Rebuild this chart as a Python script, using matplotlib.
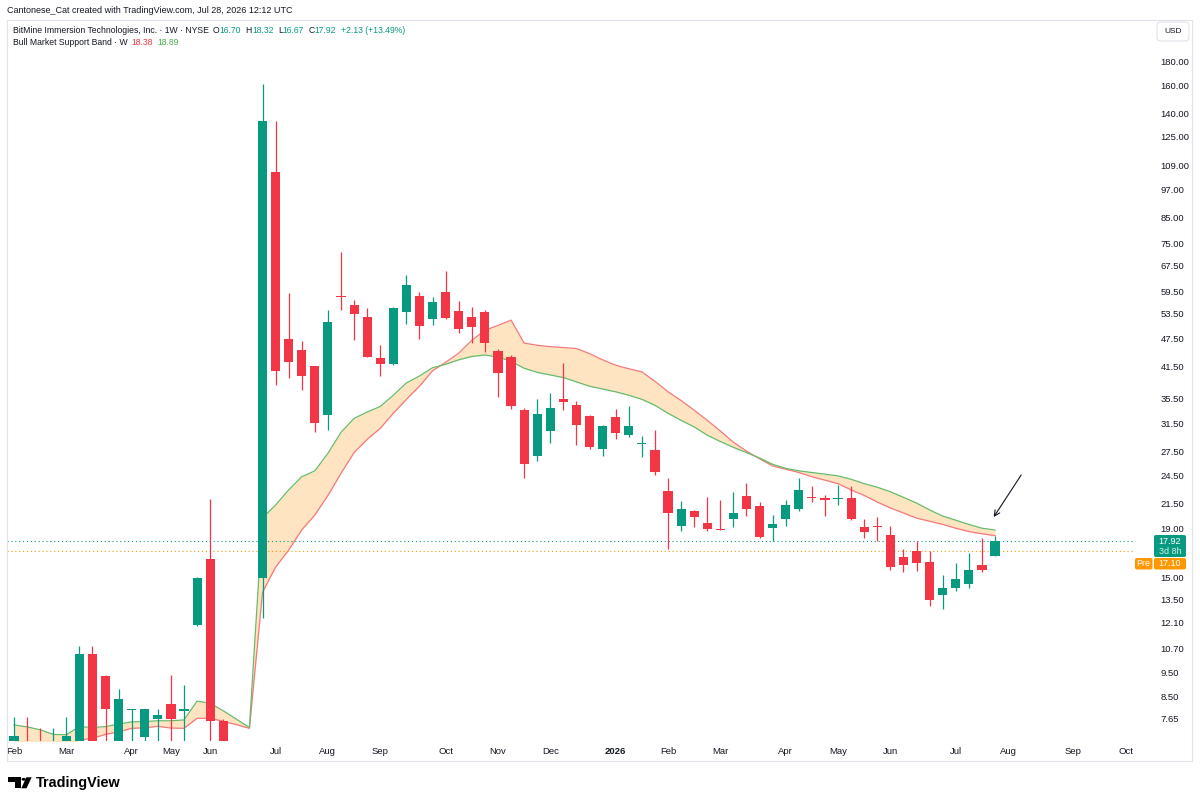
import matplotlib
matplotlib.use("Agg")
import matplotlib.pyplot as plt
from matplotlib.patches import Rectangle, FancyBboxPatch, Polygon, Circle
from matplotlib.ticker import NullLocator
import numpy as np

plt.rcParams['font.family'] = ['Liberation Sans', 'DejaVu Sans']

W, H = 1200, 805

# Weekly bars, Feb 2025 -> last week of Jul 2026 (BMNR, log scale)
opens = [6.6, 6.7, 6.7, 6.3, 6.5, 6.6, 10.39, 9.38, 6.7, 7.95,
         6.98, 7.60, 8.18, 7.90, 11.96, 16.4, 7.55, 6.2, 5.9, 14.97,
         105.4, 47.3, 44.9, 41.5, 32.9, 58.2, 55.6, 52.6, 43.1, 41.9,
         53.8, 58.2, 52.0, 59.4, 54.0, 52.7, 53.9, 44.7, 43.3, 33.7,
         26.9, 30.4, 35.5, 34.4, 32.7, 27.9, 32.5, 29.8, 28.6, 27.7,
         22.8, 19.3, 20.7, 19.5, 18.95, 19.9, 22.2, 21.2, 19.1, 19.9,
         20.9, 22.15, 22.0, 21.95, 22.0, 19.2, 19.25, 18.4, 16.56, 17.1,
         16.2, 13.8, 14.3, 14.6, 16.0, 16.70]
highs = [7.69, 7.69, 7.28, 7.28, 7.69, 10.81, 10.81, 9.40, 8.79, 7.99,
         7.97, 7.97, 9.40, 8.96, 15.05, 21.9, 7.62, 6.5, 6.3, 161.2,
         134.7, 58.9, 46.9, 41.6, 54.4, 71.7, 57.0, 55.0, 46.0, 55.3,
         64.3, 59.4, 57.8, 65.6, 56.8, 55.1, 54.4, 45.0, 43.9, 33.9,
         35.5, 36.5, 42.1, 35.1, 32.8, 31.3, 33.8, 34.2, 29.7, 30.5,
         24.2, 21.7, 20.8, 22.1, 21.8, 22.7, 23.7, 21.6, 20.3, 21.8,
         24.2, 23.3, 22.4, 23.4, 23.3, 19.95, 20.1, 19.3, 17.2, 17.9,
         17.1, 15.2, 16.1, 16.9, 18.2, 18.32]
lows = [6.3, 6.2, 6.1, 6.0, 6.3, 6.4, 6.5, 6.7, 6.5, 6.7,
        6.7, 6.7, 6.7, 6.7, 11.9, 6.5, 6.3, 5.6, 5.5, 12.4,
        38.0, 39.2, 37.1, 30.3, 30.6, 54.4, 47.1, 43.3, 39.6, 41.8,
        50.8, 47.3, 50.6, 52.2, 48.7, 46.3, 44.5, 35.8, 33.8, 24.3,
        26.3, 28.7, 33.7, 28.4, 27.9, 26.9, 29.2, 29.6, 26.8, 24.6,
        17.2, 18.8, 19.2, 18.8, 18.85, 19.2, 20.2, 18.2, 17.9, 19.3,
        20.7, 21.6, 20.2, 21.3, 19.8, 18.2, 17.9, 15.6, 15.4, 15.5,
        13.1, 12.9, 14.1, 14.3, 15.45, 16.67]
closes = [7.0, 6.4, 6.4, 6.7, 7.0, 10.39, 6.7, 7.97, 8.39, 7.97,
          7.97, 7.76, 7.60, 7.97, 15.0, 7.55, 6.5, 5.9, 5.8, 135.1,
          40.55, 42.3, 39.6, 31.6, 51.3, 57.8, 53.4, 43.4, 41.9, 55.0,
          61.3, 50.3, 56.6, 52.3, 49.7, 50.2, 46.5, 40.2, 34.3, 25.9,
          33.0, 34.0, 35.0, 31.3, 28.2, 31.1, 30.1, 31.1, 28.7, 25.0,
          20.5, 20.9, 20.1, 19.0, 18.85, 20.5, 20.9, 18.3, 19.4, 21.3,
          22.9, 22.05, 21.8, 22.05, 19.9, 18.7, 19.15, 15.8, 16.0, 16.1,
          13.5, 14.3, 14.9, 15.6, 15.6, 17.92]

# Bull Market Support Band: 20W SMA (red) and 21W EMA (green)
band_sma = [6.70, 6.65, 6.60, 6.60, 6.65, 6.88, 6.94, 7.07, 7.16, 7.28,
            7.30, 7.35, 7.29, 7.28, 7.64, 7.64, 7.53, 7.41, 7.28, 14.0,
            15.8, 17.15, 18.9, 20.3, 22.3, 24.8, 27.4, 29.2, 30.8, 33.1,
            35.4, 37.7, 40.6, 42.3, 44.2, 47.0, 49.3, 50.5, 51.8, 46.4,
            45.9, 45.6, 45.4, 45.2, 44.1, 42.8, 41.7, 41.0, 40.4, 38.6,
            36.7, 35.2, 33.6, 32.0, 30.4, 28.8, 27.6, 26.6, 25.7, 25.3,
            24.9, 24.4, 24.0, 23.6, 22.9, 22.3, 21.6, 21.0, 20.5, 20.0,
            19.7, 19.4, 19.05, 18.75, 18.55, 18.38]
band_ema = [7.40, 7.33, 7.23, 7.07, 7.06, 7.34, 7.31, 7.34, 7.43, 7.51,
            7.52, 7.55, 7.55, 7.58, 8.30, 8.21, 7.92, 7.61, 7.31, 20.0,
            21.3, 22.9, 24.4, 25.1, 27.3, 30.2, 32.3, 33.3, 34.2, 36.1,
            38.3, 39.6, 41.2, 41.9, 42.8, 43.5, 43.8, 43.4, 42.5, 41.1,
            40.3, 39.8, 39.3, 38.5, 37.7, 37.2, 36.7, 36.1, 35.4, 34.4,
            33.1, 32.0, 31.0, 29.8, 28.9, 28.1, 27.4, 26.7, 25.9, 25.4,
            25.1, 24.9, 24.7, 24.5, 24.1, 23.6, 23.2, 22.7, 22.1, 21.5,
            20.8, 20.2, 19.8, 19.4, 19.05, 18.89]

month_labels = ['Feb', 'Mar', 'Apr', 'May', 'Jun', 'Jul', 'Aug', 'Sep', 'Oct', 'Nov', 'Dec',
                '2026', 'Feb', 'Mar', 'Apr', 'May', 'Jun', 'Jul', 'Aug', 'Sep', 'Oct']
month_bars = [0, 4, 9, 12, 15, 20, 24, 28, 33, 37, 41, 46, 50, 54, 59, 63, 67, 72, 76, 81, 85]

price_ticks = [180, 160, 140, 125, 109, 97, 85, 75, 67.5, 59.5, 53.5, 47.5, 41.5, 35.5,
               31.5, 27.5, 24.5, 21.5, 19, 15, 13.5, 12.1, 10.7, 9.5, 8.5, 7.65]

last_close = 17.92
premarket = 17.10
change, change_pct = 2.13, 13.49
countdown = '3d 8h'
# hand-drawn arrow (bar index, price)
arrow_tail = (77.0, 24.6)
arrow_tip = (74.9, 20.1)

UP, DOWN = '#089981', '#F23645'
TXT = '#131722'


def fx(px):
    return px / W


def fy(py):
    return 1 - py / H


fig = plt.figure(figsize=(W / 100, H / 100), dpi=100)
fig.patch.set_facecolor('white')
ax = fig.add_axes([fx(7), fy(741), fx(1133) - fx(7), fy(20.5) - fy(741)])
ax.set_yscale('log')

x = np.arange(len(closes))
o, hi, lo, c = map(np.array, (opens, highs, lows, closes))
cols = np.where(c >= o, UP, DOWN)

# band
ax.fill_between(x, band_sma, band_ema, color='#FFE4C2', lw=0, zorder=1)
ax.plot(x, band_sma, color='#F7787C', lw=0.9, zorder=2)
ax.plot(x, band_ema, color='#66BB6A', lw=0.9, zorder=2)

# candles
ax.vlines(x, lo, hi, colors=cols, lw=0.9, zorder=3)
bot = np.minimum(o, c)
top = np.maximum(o, c)
ax.bar(x, top - bot, bottom=bot, width=0.7, color=cols, lw=0, zorder=4)

# last / premarket price lines
ax.axhline(last_close, color=UP, ls=(0, (1, 2.5)), lw=0.8, zorder=2)
ax.axhline(premarket, color='#FF9800', ls=(0, (1, 2.5)), lw=0.8, zorder=2)

ax.annotate('', xy=arrow_tip, xytext=arrow_tail,
            arrowprops=dict(arrowstyle='->', color=TXT, lw=0.8,
                            shrinkA=0, shrinkB=0, mutation_scale=10))

ax.set_xlim(-0.535, 85.55)
ax.set_ylim(6.85, 218.7)

ax.yaxis.tick_right()
ax.set_yticks(price_ticks)
ax.set_yticklabels([f'{p:.2f}' for p in price_ticks])
ax.yaxis.set_minor_locator(NullLocator())
ax.tick_params(axis='y', length=0, pad=20, labelsize=6.8, labelcolor=TXT)
ax.set_xticks(month_bars)
ax.set_xticklabels(month_labels)
ax.tick_params(axis='x', length=0, pad=4, labelsize=6.8, labelcolor=TXT)
for lab in ax.get_xticklabels():
    if lab.get_text() == '2026':
        lab.set_fontweight('bold')
for s in ax.spines.values():
    s.set_visible(False)

# chart frame
fig.add_artist(Rectangle((fx(7.3), fy(761)), fx(1192) - fx(7.3), fy(20.5) - fy(761),
                         transform=fig.transFigure, fill=False, ec='#E0E3EB', lw=0.8))

# header and legend
fig.text(fx(7), fy(10.7), 'Cantonese_Cat created with TradingView.com, Jul 28, 2026 12:12 UTC',
         fontsize=6.5, color=TXT, va='center')

renderer = fig.canvas.get_renderer()


def run(x_px, y_px, pieces, size=6.2):
    for s, col in pieces:
        if s == ' ':
            x_px += 4.5
            continue
        t = fig.text(fx(x_px), fy(y_px), s, color=col, fontsize=size, va='center')
        x_px += t.get_window_extent(renderer).width
    return x_px


run(12.7, 30.7, [('BitMine Immersion Technologies, Inc. · 1W · NYSE', TXT), (' ', None),
                 ('O', TXT), (f'{opens[-1]:.2f}', UP), (' ', None),
                 ('H', TXT), (f'{highs[-1]:.2f}', UP), (' ', None),
                 ('L', TXT), (f'{lows[-1]:.2f}', UP), (' ', None),
                 ('C', TXT), (f'{closes[-1]:.2f}', UP), (' ', None),
                 (f'+{change:.2f} (+{change_pct:.2f}%)', UP)])
run(12.7, 42.7, [('Bull Market Support Band · W', TXT), (' ', None),
                 (f'{band_sma[-1]:.2f}', DOWN), (' ', None),
                 (f'{band_ema[-1]:.2f}', '#4CAF50')])

# USD box
fig.add_artist(FancyBboxPatch((fx(1157), fy(41)), fx(1189) - fx(1157), fy(22) - fy(41),
                              boxstyle='round,pad=0,rounding_size=0.004',
                              transform=fig.transFigure, fc='white', ec='#E0E3EB', lw=0.8))
fig.text(fx(1173), fy(31.5), 'USD', fontsize=6, color=TXT, ha='center', va='center')


def label_box(x0, x1, y0, y1, fc):
    fig.add_artist(FancyBboxPatch((fx(x0), fy(y1)), fx(x1) - fx(x0), fy(y0) - fy(y1),
                                  boxstyle='round,pad=0,rounding_size=0.002',
                                  transform=fig.transFigure, fc=fc, ec='none'))


label_box(1154, 1186, 535, 557, UP)
fig.text(fx(1170), fy(541), f'{last_close:.2f}', fontsize=6.5, color='white', ha='center', va='center')
fig.text(fx(1170), fy(551.5), countdown, fontsize=6.5, color='#D5F0EA', ha='center', va='center')
label_box(1154, 1186, 558, 569.5, '#FF9800')
fig.text(fx(1170), fy(563.8), f'{premarket:.2f}', fontsize=6.5, color='white', ha='center', va='center')
label_box(1135, 1152.5, 558, 569.5, '#FF9800')
fig.text(fx(1143.7), fy(563.8), 'Pre', fontsize=6.5, color='white', ha='center', va='center')

# TradingView logo
fig.add_artist(Polygon([(fx(8.3), fy(777.3)), (fx(20.7), fy(777.3)), (fx(20.7), fy(788.3)),
                        (fx(14.8), fy(788.3)), (fx(14.8), fy(781.6)), (fx(8.3), fy(781.6))],
                       closed=True, transform=fig.transFigure, fc='black', ec='none'))
fig.add_artist(Circle((fx(23.6), fy(779.3)), 2.1 / W, transform=fig.transFigure, fc='black', ec='none'))
fig.add_artist(Polygon([(fx(26.3), fy(777.3)), (fx(31.7), fy(777.3)), (fx(26.5), fy(788.3)),
                        (fx(21.3), fy(788.3))],
                       closed=True, transform=fig.transFigure, fc='black', ec='none'))
fig.text(fx(36), fy(783.3), 'TradingView', fontsize=10.4, fontweight='bold', color='black', va='center')

fig.savefig('out.png', dpi=100)
